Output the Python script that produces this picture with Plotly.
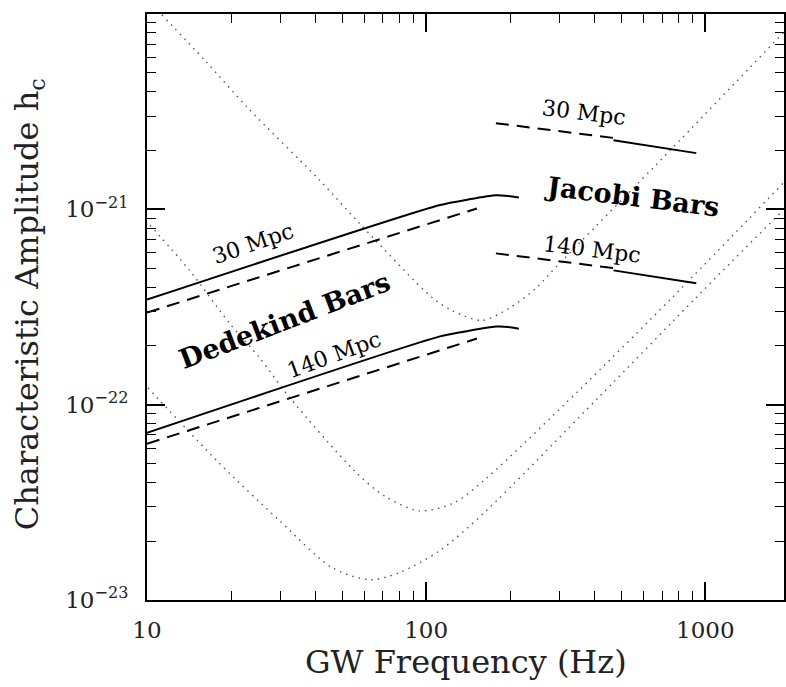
import plotly.graph_objects as go

# ---------------- data ----------------
# Dotted detector-sensitivity curves (frequency in Hz, characteristic amplitude)
noise_a_f = [11.3, 16.1, 23.0, 41.5, 57.6, 105.0, 123.9, 158.5, 197.9, 247.0, 291.0, 750.0, 1900.0]
noise_a_h = [9.9e-21, 5.8e-21, 3.3e-21, 1.41e-21, 8.5e-22, 3.54e-22, 3.03e-22, 2.70e-22, 3.11e-22, 3.94e-22, 5.04e-22, 2.01e-21, 8.0e-21]

noise_b_f = [10.25, 14.2, 19.8, 25.3, 32.4, 55.3, 70.8, 94.4, 125.9, 163.8, 351.9, 756.0, 1900.0]
noise_b_h = [8.3e-22, 4.87e-22, 2.60e-22, 1.74e-22, 1.09e-22, 4.59e-23, 3.41e-23, 2.86e-23, 3.14e-23, 4.18e-23, 1.18e-22, 3.50e-22, 1.36e-21]

noise_c_f = [10.08, 17.8, 29.9, 46.2, 62.6, 80.1, 111.3, 161.1, 414.9, 920.9, 1900.0]
noise_c_h = [1.22e-22, 5.16e-23, 2.54e-23, 1.46e-23, 1.27e-23, 1.38e-23, 1.78e-23, 2.79e-23, 1.09e-22, 3.50e-22, 9.9e-22]

# Dedekind bars
ded30_solid_f = [10.0, 111.3, 142.5, 177.8, 197.0, 214.9]
ded30_solid_h = [3.45e-22, 1.05e-21, 1.125e-21, 1.18e-21, 1.17e-21, 1.15e-21]
ded30_dash_f = [10.0, 152.1]
ded30_dash_h = [2.96e-22, 1.01e-21]

ded140_solid_f = [10.0, 111.3, 142.5, 177.8, 197.0, 214.9]
ded140_solid_h = [7.18e-23, 2.23e-22, 2.39e-22, 2.51e-22, 2.50e-22, 2.45e-22]
ded140_dash_f = [10.0, 152.1]
ded140_dash_h = [6.31e-23, 2.18e-22]

# Jacobi bars
jac30_dash_f = [177.8, 480.9]
jac30_dash_h = [2.76e-21, 2.31e-21]
jac30_solid_f = [469.0, 928.8]
jac30_solid_h = [2.26e-21, 1.94e-21]

jac140_dash_f = [177.8, 480.9]
jac140_dash_h = [5.95e-22, 4.98e-22]
jac140_solid_f = [469.0, 928.8]
jac140_solid_h = [4.87e-22, 4.18e-22]

# Tick labels
x_tickvals = [10, 100, 1000]
x_ticktext = ["10", "100", "1000"]
x_minor = [20, 30, 40, 50, 60, 70, 80, 90, 200, 300, 400, 500, 600, 700, 800, 900]
y_tickvals = [1e-23, 1e-22, 1e-21, 1e-20]
y_ticktext = ["10<sup>\u221223</sup>", "10<sup>\u221222</sup>", "10<sup>\u221221</sup>", "10<sup>\u221220</sup>"]
y_minor = [m * 10.0 ** e for e in (-23, -22, -21) for m in range(2, 10)]

# ---------------- figure ----------------
FONT = "DejaVu Serif"
fig = go.Figure()

dot_style = dict(color="#555555", width=1.4, dash="1.5px,5px")
for fx, hy in [(noise_a_f, noise_a_h), (noise_b_f, noise_b_h), (noise_c_f, noise_c_h)]:
    fig.add_trace(go.Scatter(x=fx, y=hy, mode="lines", line=dict(shape="spline", smoothing=0.8, **dot_style),
                             hoverinfo="skip", showlegend=False))

solid_style = dict(color="black", width=2)
dash_style = dict(color="black", width=2, dash="13px,8px")
for fx, hy in [(ded30_solid_f, ded30_solid_h), (ded140_solid_f, ded140_solid_h)]:
    fig.add_trace(go.Scatter(x=fx, y=hy, mode="lines", line=dict(shape="spline", smoothing=0.6, **solid_style),
                             hoverinfo="skip", showlegend=False))
for fx, hy in [(ded30_dash_f, ded30_dash_h), (ded140_dash_f, ded140_dash_h),
               (jac30_dash_f, jac30_dash_h), (jac140_dash_f, jac140_dash_h)]:
    fig.add_trace(go.Scatter(x=fx, y=hy, mode="lines", line=dash_style, hoverinfo="skip", showlegend=False))
for fx, hy in [(jac30_solid_f, jac30_solid_h), (jac140_solid_f, jac140_solid_h)]:
    fig.add_trace(go.Scatter(x=fx, y=hy, mode="lines", line=solid_style, hoverinfo="skip", showlegend=False))

annots = [
    dict(text="30 Mpc", x=1.379, y=-21.174, textangle=-19, font=dict(family=FONT, size=22)),
    dict(text="<b>Dedekind Bars</b>", x=1.493, y=-21.569, textangle=-21, font=dict(family=FONT, size=27)),
    dict(text="140 Mpc", x=1.671, y=-21.744, textangle=-20, font=dict(family=FONT, size=22)),
    dict(text="<b>Jacobi Bars</b>", x=2.739, y=-20.933, textangle=7, font=dict(family=FONT, size=27)),
    dict(text="30 Mpc", x=2.564, y=-20.503, textangle=7, font=dict(family=FONT, size=22)),
    dict(text="140 Mpc", x=2.596, y=-21.205, textangle=7, font=dict(family=FONT, size=22)),
]
for a in annots:
    a["font"]["color"] = "black"
    fig.add_annotation(xref="x", yref="y", showarrow=False, xanchor="center", yanchor="middle", **a)

fig.add_annotation(text="GW Frequency (Hz)", xref="paper", yref="paper", x=0.5, y=-0.106,
                   showarrow=False, xanchor="center", yanchor="middle",
                   font=dict(family=FONT, size=32, color="#222222"))
fig.add_annotation(text="Characteristic Amplitude h<sub>c</sub>", xref="paper", yref="paper", x=-0.185, y=0.505,
                   showarrow=False, xanchor="center", yanchor="middle", textangle=-90,
                   font=dict(family=FONT, size=32, color="#222222"))

axis_common = dict(showline=True, linecolor="black", linewidth=2, mirror="ticks", ticks="inside",
                   tickcolor="black", tickwidth=1.5, ticklen=18, showgrid=False, zeroline=False,
                   tickfont=dict(family=FONT, size=23, color="#222222"))

fig.update_xaxes(type="log", range=[1, 3.2821], tickvals=x_tickvals, ticktext=x_ticktext,
                 minor=dict(ticks="inside", ticklen=9, tickwidth=1, tickcolor="black", tickvals=x_minor, showgrid=False),
                 ticklabelstandoff=8, **axis_common)
fig.update_yaxes(type="log", range=[-23, -20], tickvals=y_tickvals, ticktext=y_ticktext,
                 minor=dict(ticks="inside", ticklen=9, tickwidth=1, tickcolor="black", tickvals=y_minor, showgrid=False),
                 ticklabelstandoff=12, **axis_common)

fig.update_layout(width=786, height=687, margin=dict(l=147, r=0, t=14, b=87),
                  paper_bgcolor="white", plot_bgcolor="white", showlegend=False)

fig.write_html("out.html")
